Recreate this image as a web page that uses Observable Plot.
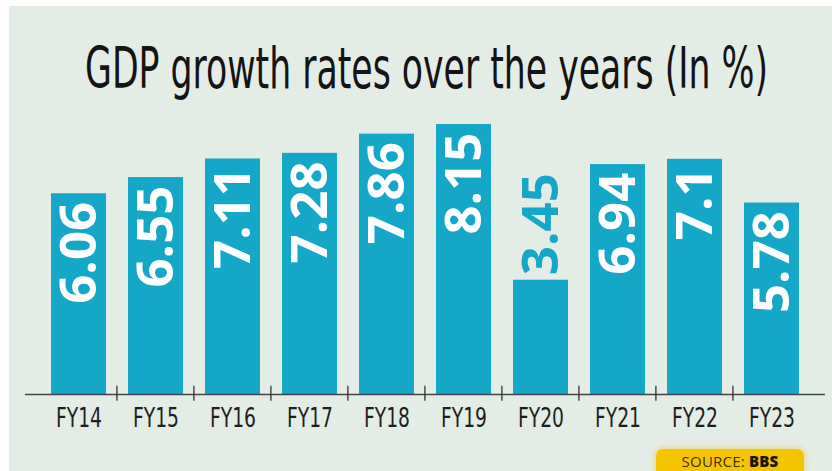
<!DOCTYPE html>
<html>
<head>
<meta charset="utf-8">
<script src="https://cdn.jsdelivr.net/npm/d3@7"></script>
<script src="https://cdn.jsdelivr.net/npm/@observablehq/plot@0.6"></script>
<style>
  html, body { margin: 0; padding: 0; background: #ffffff; }
  #page { position: relative; width: 832px; height: 471px; overflow: hidden; background: #ffffff; }
  #panel { position: absolute; left: 9px; top: 6px; right: 0; bottom: 0; background: #e4ece6; }
  #title { position: absolute; top: 36px; left: 0; white-space: nowrap;
           font-family: "Liberation Sans Narrow", "DejaVu Sans Condensed", "Arial Narrow", sans-serif;
           font-size: 57px; line-height: 64px; color: #141414; transform-origin: 0 0; }
  #chart { position: absolute; left: 0; top: 105px; width: 832px; }
  #source { position: absolute; left: 656px; top: 449px; width: 148px; height: 34px; border-radius: 7px;
            background: #f5c400; box-shadow: 0 0 4px 2px rgba(245,196,0,0.35);
            font-family: "Open Sans", "Noto Sans", sans-serif; font-size: 15px; line-height: 24px;
            color: #3a3200; text-align: center; letter-spacing: 0.2px; }
  #source b { color: #1a1400; font-weight: 800; }
</style>
</head>
<body>
<div id="page">
  <div id="panel"></div>
  <span id="title">GDP growth rates over the years (In %)</span>
  <div id="chart"></div>
  <div id="source">SOURCE: <b>BBS</b></div>
</div>
<script>
const years = ["FY14", "FY15", "FY16", "FY17", "FY18", "FY19", "FY20", "FY21", "FY22", "FY23"];
const growth = [6.06, 6.55, 7.11, 7.28, 7.86, 8.15, 3.45, 6.94, 7.1, 5.78];
const valueLabels = ["6.06", "6.55", "7.11", "7.28", "7.86", "8.15", "3.45", "6.94", "7.1", "5.78"];
const outsideLabel = ["FY20"];

const data = years.map((fy, i) => ({fy, v: growth[i], label: valueLabels[i]}));
const inside = data.filter(d => !outsideLabel.includes(d.fy));
const outside = data.filter(d => outsideLabel.includes(d.fy));

const barColor = "#14a7c8";
const valueFont = "'Open Sans', 'Noto Sans', sans-serif";
const axisFont = "'Liberation Sans Narrow', 'DejaVu Sans Condensed', 'Arial Narrow', sans-serif";

const xr = [35.6, 813.6];
const step = (xr[1] - xr[0]) / years.length;

const chart = Plot.plot({
  width: 832,
  height: 340,
  marginLeft: 25,
  marginRight: 7,
  marginTop: 0,
  marginBottom: 51,
  style: {background: "transparent", overflow: "visible"},
  x: {type: "band", domain: years, range: xr, paddingInner: 0.29, paddingOuter: 0.145, align: 0.5, label: null},
  y: {domain: [0, 8], range: [289, 24], axis: null},
  marks: [
    Plot.barY(data, {x: "fy", y: "v", fill: barColor}),
    Plot.ruleY([0], {stroke: "#454545", strokeWidth: 1.6}),
    Plot.ruleX(years.slice(0, -1), {x: d => d, y1: -0.2, y2: 0.25, dx: step / 2 - 1, stroke: "#333", strokeWidth: 1.3}),
    Plot.text(inside, {x: "fy", y: "v", text: "label", rotate: -90, textAnchor: "end", lineAnchor: "middle",
      dy: 8, dx: 1, fill: "white", fontSize: 51, fontWeight: 700, fontFamily: valueFont}),
    Plot.text(outside, {x: "fy", y: "v", text: "label", rotate: -90, textAnchor: "start", lineAnchor: "middle",
      dy: -5, dx: 1, fill: barColor, fontSize: 51, fontWeight: 700, fontFamily: valueFont}),
    Plot.axisX({tickSize: 0, tickPadding: 13, fontSize: 27, fontFamily: axisFont, fill: "#1e1e1e", label: null})
  ]
});
document.getElementById("chart").appendChild(chart);

// condense the axis labels to the reference's narrow lettering
chart.querySelectorAll('g[aria-label="x-axis tick label"] text').forEach(el => {
  el.setAttribute("textLength", 46);
  el.setAttribute("lengthAdjust", "spacingAndGlyphs");
});

// fit title width to reference
const t = document.getElementById("title");
const w = t.getBoundingClientRect().width;
const target = 683;
const s = target / w;
t.style.left = (426.5 - target / 2) + "px";
t.style.transform = `scaleX(${s})`;
</script>
</body>
</html>
